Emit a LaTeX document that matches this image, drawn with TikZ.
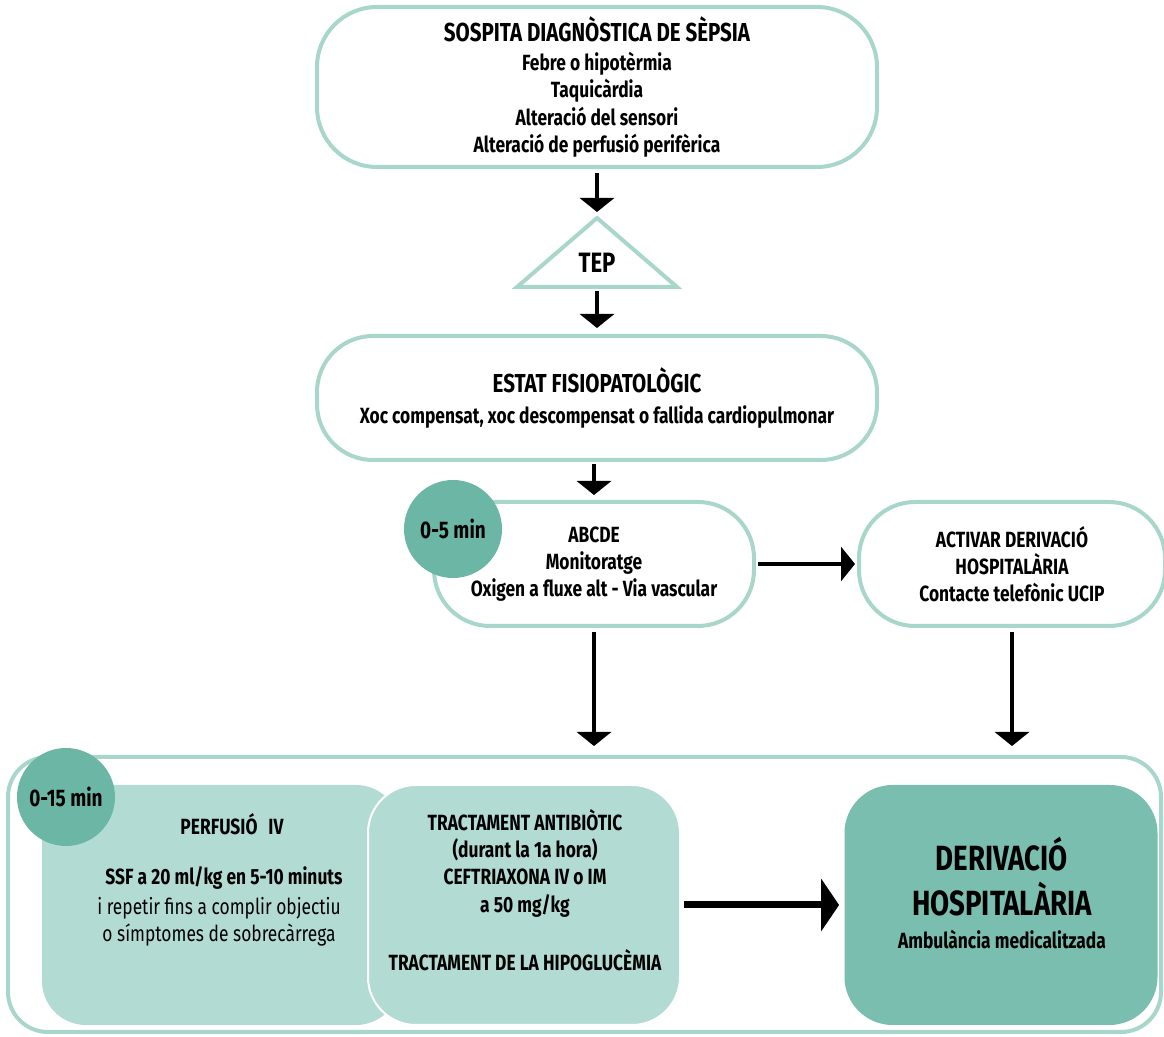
\documentclass[tikz,border=0pt]{standalone}
\usepackage{fontspec}
\setmainfont{Fira Sans}[FakeStretch=0.79]
\usetikzlibrary{shapes.geometric, arrows.meta, positioning, calc}

\definecolor{mintline}{HTML}{A9D6CB}
\definecolor{mintfill}{HTML}{B2DCD3}
\definecolor{tealfill}{HTML}{79BEAF}
\definecolor{tealdot}{HTML}{6CB6A6}

\newcommand{\bodyfont}{\fontsize{11}{13.6}\selectfont\bfseries}
\newcommand{\headfont}{\fontsize{13}{14}\selectfont\bfseries}
\newcommand{\bigfont}{\fontsize{17.5}{22.5}\selectfont\bfseries}

\begin{document}
\begin{tikzpicture}[x=0.5pt, y=-0.5pt,
  pill/.style={draw=mintline, line width=2pt, fill=white, rounded corners=28pt,
    align=center, inner sep=0pt, font=\bodyfont},
  panel/.style={rounded corners=22pt, inner sep=0pt, minimum height=120pt},
  timedot/.style={circle, fill=tealdot, minimum size=49pt, inner sep=0pt,
    font=\fontsize{12}{14}\selectfont\bfseries},
  txt/.style={align=center, inner sep=0pt, font=\bodyfont},
  arr/.style={line width=2pt, -{Triangle[width=17pt,length=7pt]}},
  bigarr/.style={line width=3.5pt, -{Triangle[width=26pt,length=9pt]}}]
\useasboundingbox (0,0) rectangle (1164,1037);

% upper part of the chart
\node[pill, rounded corners=30pt, minimum width=280pt, minimum height=80pt] (sospita) at (597,87)
  {{\headfont SOSPITA DIAGNÒSTICA DE SÈPSIA}\\[1pt] Febre o hipotèrmia\\ Taquicàrdia\\
   Alteració del sensori\\ Alteració de perfusió perifèrica};

\draw[draw=mintline, line width=2pt] (597,218) -- (677,287) -- (517,287) -- cycle;
\coordinate (tepapex) at (597,218);
\coordinate (tepbase) at (597,287);
\node[txt, font=\fontsize{14}{16}\selectfont\bfseries] (tep) at (597,263) {TEP};

\node[pill, minimum width=280pt, minimum height=62pt] (estat) at (597,398)
  {{\headfont ESTAT FISIOPATOLÒGIC}\\[2pt] Xoc compensat, xoc descompensat o fallida cardiopulmonar};

\node[pill, minimum width=160pt, minimum height=62pt] (abcde) at (594,564)
  {ABCDE\\ Monitoratge\\ Oxigen a fluxe alt - Via vascular};
\node[timedot] (t5) at (453,529) {0-5 min};

\node[pill, minimum width=153pt, minimum height=62pt] (activar) at (1012,564)
  {ACTIVAR DERIVACIÓ\\ HOSPITALÀRIA\\ Contacte telefònic UCIP};

% lower part
\node[draw=mintline, line width=2pt, rounded corners=20pt, minimum width=576.5pt,
  minimum height=137.5pt, inner sep=0pt] (fase) at (584.5,894.5) {};
\node[panel, fill=mintfill, minimum width=179pt] (perf) at (221,905) {};
\node[panel, fill=mintfill, draw=white, line width=1pt, rounded corners=24pt, minimum width=156pt] (tract) at (524,905) {};
\node[panel, fill=tealfill, rounded corners=24pt, minimum width=156.5pt] (deriv) at (1001,905) {};
\node[timedot] (t15) at (66,797) {0-15 min};

\node[txt] (perftitle) at (232,824) {PERFUSIÓ\enspace IV};
\node[txt] (perfdose) at (224,878) {SSF a 20 ml/kg en 5-10 minuts};
\node[txt, font=\fontsize{11}{13.6}\selectfont] (perfnote) at (219,922)
  {i repetir fins a complir objectiu\\ o símptomes de sobrecàrrega};
\node[txt] (tracttxt) at (525,890)
  {TRACTAMENT ANTIBIÒTIC\\ (durant la 1a hora)\\ CEFTRIAXONA IV o IM\\ a 50 mg/kg\\[15.5pt]
   TRACTAMENT DE LA HIPOGLUCÈMIA};
\node[txt, font=\bigfont] (derivtxt) at (1002,893)
  {DERIVACIÓ\\ HOSPITALÀRIA\\[-6pt] {\bodyfont Ambulància medicalitzada}};

% connectors
\draw[arr, shorten <=2pt, shorten >=3pt] (sospita) -- (tepapex);
\draw[arr, shorten <=2pt, shorten >=3pt] (tepbase) -- (estat);
\draw[arr, shorten <=1pt, shorten >=2.5pt] (estat.south -| abcde.south) -- (abcde);
\draw[arr, shorten <=1pt, shorten >=1pt] (abcde) -- (activar);
\foreach \from in {abcde,activar}
  \draw[arr, shorten <=2pt, shorten >=4.5pt] (\from.south) -- (\from.south |- fase.north);
\draw[bigarr, shorten <=1.5pt, shorten >=2.5pt] (tract) -- (deriv);
\end{tikzpicture}
\end{document}
